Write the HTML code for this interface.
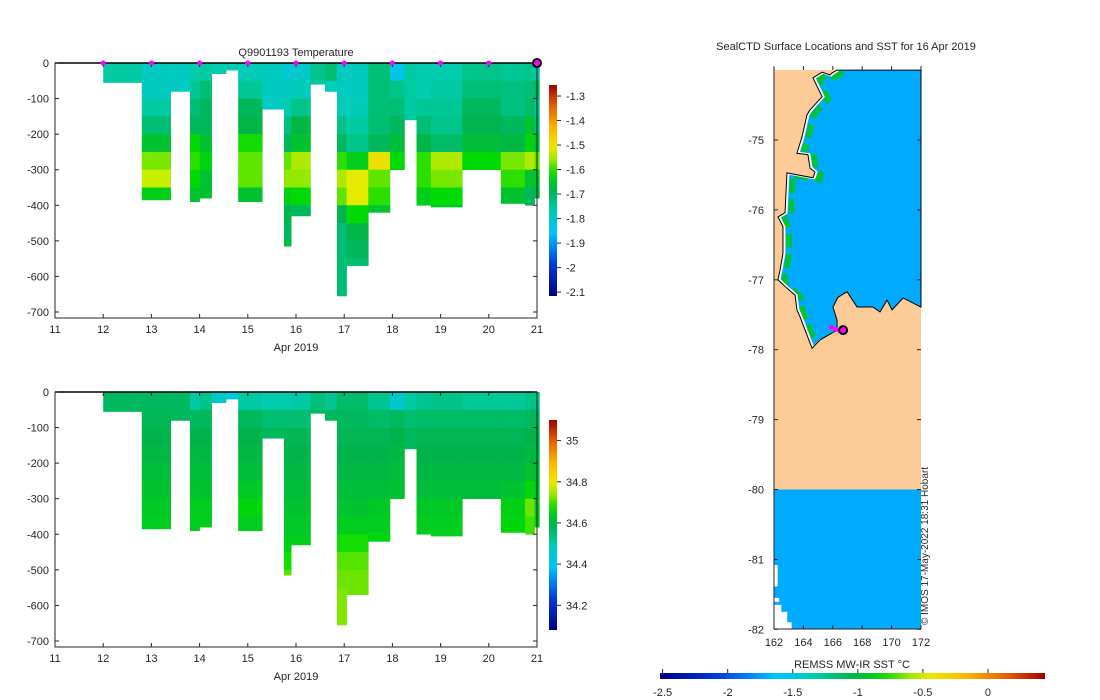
<!DOCTYPE html>
<html><head><meta charset="utf-8"><style>
body{margin:0;background:#fff;}
svg{display:block;font-family:"Liberation Sans","DejaVu Sans",sans-serif;}
text{font-size:11px;fill:#262626;}
</style></head><body>
<svg id="fig" width="1100" height="700" viewBox="0 0 1100 700" xmlns="http://www.w3.org/2000/svg">
<defs>
<linearGradient id="cbv" x1="0" y1="1" x2="0" y2="0"></linearGradient>
<linearGradient id="cbh" x1="0" y1="0" x2="1" y2="0"></linearGradient>
<clipPath id="oceanclip"><polygon id="oceanclipPoly"/></clipPath>
</defs>
<g id="g-temp"></g>
<g id="g-sal"></g>
<g id="g-map"></g>
</svg>
<script>
// ---- profile data (day start, day end, max depth, 50 m binned values) ----
const colStart=[12.0,12.8,13.4,13.8,14.0,14.25,14.55,14.8,15.3,15.75,15.9,16.3,16.6,16.85,17.05,17.5,17.95,18.25,18.5,18.8,19.45,20.25,20.75,20.95];
const colEnd=[12.8,13.4,13.8,14.0,14.25,14.55,14.8,15.3,15.75,15.9,16.3,16.6,16.85,17.05,17.5,17.95,18.25,18.5,18.8,19.45,20.25,20.75,20.95,21.05];
const colDepth=[55,385,80,390,380,30,20,390,130,515,430,60,80,655,570,420,300,160,400,405,300,395,400,380];
const tempValues=[
[-1.76,-1.76],
[-1.79,-1.79,-1.76,-1.72,-1.66,-1.57,-1.54,-1.64],
[-1.79,-1.79],
[-1.77,-1.75,-1.72,-1.70,-1.62,-1.60,-1.62,-1.66],
[-1.76,-1.72,-1.70,-1.70,-1.66,-1.63,-1.66,-1.66],
[-1.77],
[-1.78],
[-1.78,-1.75,-1.70,-1.68,-1.61,-1.58,-1.58,-1.66],
[-1.79,-1.79,-1.79],
[-1.81,-1.79,-1.77,-1.73,-1.70,-1.58,-1.56,-1.64,-1.69,-1.70,-1.67],
[-1.80,-1.78,-1.74,-1.68,-1.66,-1.55,-1.56,-1.62,-1.70],
[-1.74,-1.76],
[-1.72,-1.78],
[-1.79,-1.79,-1.78,-1.74,-1.70,-1.60,-1.55,-1.58,-1.69,-1.72,-1.72,-1.72,-1.72,-1.72],
[-1.79,-1.79,-1.78,-1.76,-1.74,-1.64,-1.52,-1.52,-1.62,-1.68,-1.70,-1.72],
[-1.72,-1.72,-1.72,-1.72,-1.70,-1.50,-1.58,-1.60,-1.66],
[-1.83,-1.74,-1.72,-1.70,-1.67,-1.62],
[-1.76,-1.76,-1.76,-1.76],
[-1.77,-1.77,-1.75,-1.72,-1.68,-1.60,-1.60,-1.64],
[-1.77,-1.76,-1.75,-1.74,-1.71,-1.55,-1.57,-1.62,-1.66],
[-1.74,-1.72,-1.70,-1.69,-1.67,-1.62],
[-1.75,-1.73,-1.73,-1.70,-1.68,-1.57,-1.60,-1.66],
[-1.74,-1.72,-1.71,-1.66,-1.63,-1.55,-1.66,-1.70],
[-1.76,-1.70,-1.74,-1.72,-1.67,-1.58,-1.65,-1.68]];
const salValues=[
[34.57,34.57],
[34.57,34.58,34.59,34.60,34.61,34.62,34.63,34.64],
[34.57,34.57],
[34.50,34.57,34.59,34.60,34.61,34.62,34.64,34.64],
[34.53,34.57,34.59,34.60,34.61,34.62,34.64,34.64],
[34.46],
[34.42],
[34.50,34.57,34.59,34.60,34.61,34.63,34.66,34.64],
[34.49,34.55,34.57],
[34.48,34.55,34.58,34.59,34.60,34.61,34.62,34.63,34.65,34.68,34.71],
[34.50,34.55,34.58,34.59,34.60,34.61,34.62,34.63,34.64],
[34.54,34.57],
[34.52,34.57],
[34.56,34.57,34.58,34.59,34.60,34.61,34.62,34.64,34.68,34.71,34.72,34.73,34.73,34.73],
[34.56,34.57,34.58,34.59,34.60,34.61,34.62,34.64,34.68,34.71,34.72,34.72],
[34.52,34.56,34.58,34.59,34.60,34.61,34.63,34.64,34.66],
[34.45,34.57,34.59,34.60,34.61,34.62],
[34.50,34.55,34.57,34.57],
[34.52,34.56,34.58,34.59,34.60,34.61,34.63,34.64],
[34.53,34.56,34.58,34.59,34.60,34.61,34.63,34.64,34.64],
[34.51,34.56,34.58,34.59,34.60,34.61],
[34.51,34.56,34.58,34.59,34.60,34.62,34.65,34.66],
[34.53,34.57,34.59,34.60,34.62,34.66,34.72,34.70],
[34.53,34.57,34.59,34.60,34.61,34.62,34.63,34.64]];
const markerDays=[12,13,14,15,16,17,18,19,20];
const lastDay=[21];
const xTickDays=[11,12,13,14,15,16,17,18,19,20,21];
const yTickDepths=[0,-100,-200,-300,-400,-500,-600,-700];
const tempTicks=[-1.3,-1.4,-1.5,-1.6,-1.7,-1.8,-1.9,-2,-2.1];
const salTicks=[35,34.8,34.6,34.4,34.2];
const sstTicks=[-2.5,-2,-1.5,-1,-0.5,0];
// ---- map data (lon/lat) ----
const coastLon=[166.29,165.95,165.81,165.27,164.65,165.27,164.45,164.24,163.90,163.56,164.31,164.45,164.79,164.65,162.88,162.75,162.27,162.61,162.61,162.41,162.27,162.88,163.43,163.56,163.77,164.59,165.13,166.29,166.29,166.01,166.35,166.97,167.65,168.73,169.21,169.69,170.03,170.78,172.0];
const coastLat=[-74.00,-74.04,-74.07,-74.03,-74.11,-74.38,-74.57,-74.64,-74.96,-75.19,-75.21,-75.40,-75.46,-75.54,-75.47,-76.04,-76.10,-76.24,-76.62,-76.86,-77.00,-77.12,-77.22,-77.43,-77.53,-77.98,-77.86,-77.72,-77.58,-77.39,-77.25,-77.17,-77.39,-77.39,-77.46,-77.29,-77.43,-77.26,-77.39];
const lonTicks=[162,164,166,168,170,172];
const latTicks=[-75,-76,-77,-78,-79,-80,-81,-82];
const stationLon=[165.9,166.2,166.5,166.7];
const stationLat=[-77.68,-77.71,-77.73,-77.72];

const NS="http://www.w3.org/2000/svg";
function mk(parent,tag,attrs,txt){const e=document.createElementNS(NS,tag);for(const k in attrs)e.setAttribute(k,attrs[k]);if(txt!==undefined)e.textContent=txt;parent.appendChild(e);return e;}
const stops=[[0,[0,0,125]],[0.15,[0,60,220]],[0.3,[0,195,255]],[0.4,[0,205,175]],[0.5,[0,180,75]],[0.58,[0,220,0]],[0.68,[225,240,0]],[0.78,[255,195,0]],[0.9,[230,95,0]],[1,[160,0,0]]];
function cmap(f){f=Math.max(0,Math.min(1,f));for(let i=1;i<stops.length;i++){if(f<=stops[i][0]){const a=stops[i-1],b=stops[i];const t=(f-a[0])/(b[0]-a[0]);const c=a[1].map((v,j)=>Math.round(v+(b[1][j]-v)*t));return `rgb(${c[0]},${c[1]},${c[2]})`;}}return 'rgb(160,0,0)';}
['cbv','cbh'].forEach(id=>{const g=document.getElementById(id);for(let i=0;i<=20;i++)mk(g,'stop',{offset:i/20,'stop-color':cmap(i/20)});});

function panel(gid,y0,values,vmin,vmax,ticks,cbTop,cbBot,title,markers){
  const g=document.getElementById(gid);
  const X0=55,X1=537,Ybot=y0+255;
  const xs=d=>X0+(d-11)*(X1-X0)/10;
  const ys=z=>y0+(-z)*0.3557;
  const cv=v=>(v-vmin)/(vmax-vmin);
  for(let c=0;c<colStart.length;c++){
    const vals=values[c];
    for(let b=0;b<vals.length;b++){
      const zTop=b*50,zBot=Math.min((b+1)*50,colDepth[c]);
      const r=mk(g,'rect',{x:xs(colStart[c]),y:ys(-zTop),width:xs(colEnd[c])-xs(colStart[c])+0.3,height:ys(-zBot)-ys(-zTop)+0.3,fill:cmap(cv(vals[b]))});
      
      
    }
  }
  const ax=mk(g,'rect',{x:X0,y:y0,width:X1-X0,height:Ybot-y0,fill:'none',stroke:'#262626','stroke-width':1});
  
  mk(g,'line',{x1:X0,y1:y0,x2:X1,y2:y0,stroke:'#000','stroke-width':1.5});
  xTickDays.forEach(d=>{mk(g,'line',{x1:xs(d),y1:Ybot,x2:xs(d),y2:Ybot-4,stroke:'#262626'});mk(g,'line',{x1:xs(d),y1:y0,x2:xs(d),y2:y0+4,stroke:'#262626'});
    const t=mk(g,'text',{x:xs(d),y:Ybot+15,'text-anchor':'middle'},String(d));});
  yTickDepths.forEach(z=>{mk(g,'line',{x1:X0,y1:ys(z),x2:X0+4,y2:ys(z),stroke:'#262626'});mk(g,'line',{x1:X1,y1:ys(z),x2:X1-4,y2:ys(z),stroke:'#262626'});
    const t=mk(g,'text',{x:X0-6,y:ys(z)+4,'text-anchor':'end'},String(z));});
  const xl=mk(g,'text',{x:(X0+X1)/2,y:Ybot+33,'text-anchor':'middle'},'Apr 2019');
  if(title){const t=mk(g,'text',{x:296,y:y0-7,'text-anchor':'middle','xml:space':'preserve'},title);}
  if(markers){markerDays.forEach(d=>{const m=mk(g,'circle',{cx:xs(d),cy:y0,r:2.5,fill:'#ff00ff'});});
    lastDay.forEach(d=>{const m=mk(g,'circle',{cx:xs(d),cy:y0,r:4,fill:'#ff00ff',stroke:'#000','stroke-width':2});});}
  const cb=mk(g,'rect',{x:549,y:cbTop,width:8,height:cbBot-cbTop,fill:'url(#cbv)'});
  ticks.forEach(v=>{const yy=cbBot-cv(v)*(cbBot-cbTop);mk(g,'line',{x1:557,y1:yy,x2:561,y2:yy,stroke:'#262626'});
    const t=mk(g,'text',{x:566,y:yy+4},String(v));});
}
panel('g-temp',63,tempValues,-2.116,-1.255,tempTicks,85,296,'Q9901193  Temperature',true);
panel('g-sal',392,salValues,34.08,35.10,salTicks,420,630,null,false);

// ---- map ----
(function(){
  const g=document.getElementById('g-map');
  const MX0=774,MX1=921,MY0=70,MY1=629;
  const lx=l=>MX0+(l-162)*(MX1-MX0)/10;
  const ly=l=>140+(-75-l)*69.9;
  const t=mk(g,'text',{x:846,y:50,'text-anchor':'middle'},'SealCTD Surface Locations and SST for 16 Apr 2019');
  const land=mk(g,'rect',{x:MX0,y:MY0,width:MX1-MX0,height:ly(-80)-MY0,fill:'#fdcb98'});
  const pts=coastLon.map((l,i)=>lx(l)+','+ly(coastLat[i])).join(' ')+' '+lx(172)+','+ly(-74.0);
  document.getElementById('oceanclipPoly').setAttribute('points',pts);
  const oc=mk(g,'polygon',{points:pts,fill:'#00aaff'});
  const west=coastLon.slice(0,27).map((l,i)=>(lx(l)+6)+','+(ly(coastLat[i])+2)).join(' ');
  const gs=mk(g,'polyline',{points:west,fill:'none',stroke:'#00c040','stroke-width':6,'stroke-dasharray':'14 6','clip-path':'url(#oceanclip)'});
  const wg=mk(g,'polyline',{points:coastLon.slice(0,27).map((l,i)=>(lx(l)+1)+','+ly(coastLat[i])).join(' '),fill:'none',stroke:'#fff','stroke-width':3,'clip-path':'url(#oceanclip)'});
  const cl=mk(g,'polygon',{points:pts,fill:'none',stroke:'#000','stroke-width':1});
  const bo=mk(g,'rect',{x:MX0,y:ly(-80),width:MX1-MX0,height:MY1-ly(-80),fill:'#00aaff'});
  [[162,-81.08,0.25,0.3],[162,-81.55,0.35,0.05],[162,-81.65,0.5,0.1],[162,-81.75,0.9,0.15],[162,-81.9,1.2,0.1]].forEach(w=>{
    const r=mk(g,'rect',{x:lx(w[0]),y:ly(w[1]),width:w[2]*14.7,height:w[3]*69.9+0.5,fill:'#fff'});});
  mk(g,'line',{x1:MX0,y1:MY0-4,x2:MX0,y2:MY1,stroke:'#262626'});
  mk(g,'line',{x1:MX0,y1:MY1,x2:MX1,y2:MY1,stroke:'#262626'});
  lonTicks.forEach(l=>{mk(g,'line',{x1:lx(l),y1:MY1,x2:lx(l),y2:MY1-4,stroke:'#262626'});mk(g,'line',{x1:lx(l),y1:MY0,x2:lx(l),y2:MY0-4,stroke:'#262626'});
    const tt=mk(g,'text',{x:lx(l),y:MY1+17,'text-anchor':'middle'},String(l));});
  latTicks.forEach(l=>{mk(g,'line',{x1:MX0,y1:ly(l),x2:MX0+4,y2:ly(l),stroke:'#262626'});mk(g,'line',{x1:MX1,y1:ly(l),x2:MX1-4,y2:ly(l),stroke:'#262626'});
    const tt=mk(g,'text',{x:MX0-10,y:ly(l)+4,'text-anchor':'end'},String(l));});
  stationLon.forEach((l,i)=>{const last=i===stationLon.length-1;const c=mk(g,'circle',{cx:lx(l),cy:ly(stationLat[i]),r:last?4:2.5,fill:'#ff00ff',stroke:last?'#000':'none','stroke-width':2});});
  const cp=mk(g,'text',{x:0,y:0,transform:'translate(928,625) rotate(-90)',style:'font-size:10px'},'© IMOS 17-May-2022 18:31 Hobart');
  const CX0=660,CX1=1045,vmin=-2.52,vmax=0.438;
  const cx=v=>CX0+(v-vmin)*(CX1-CX0)/(vmax-vmin);
  const hb=mk(g,'rect',{x:CX0,y:673,width:CX1-CX0,height:6,fill:'url(#cbh)'});
  sstTicks.forEach(v=>{mk(g,'line',{x1:cx(v),y1:669,x2:cx(v),y2:673,stroke:'#262626'});
    const tt=mk(g,'text',{x:cx(v),y:696,'text-anchor':'middle'},String(v));});
  const cbl=mk(g,'text',{x:852,y:668,'text-anchor':'middle'},'REMSS MW-IR SST °C');
})();
</script>
</body></html>
